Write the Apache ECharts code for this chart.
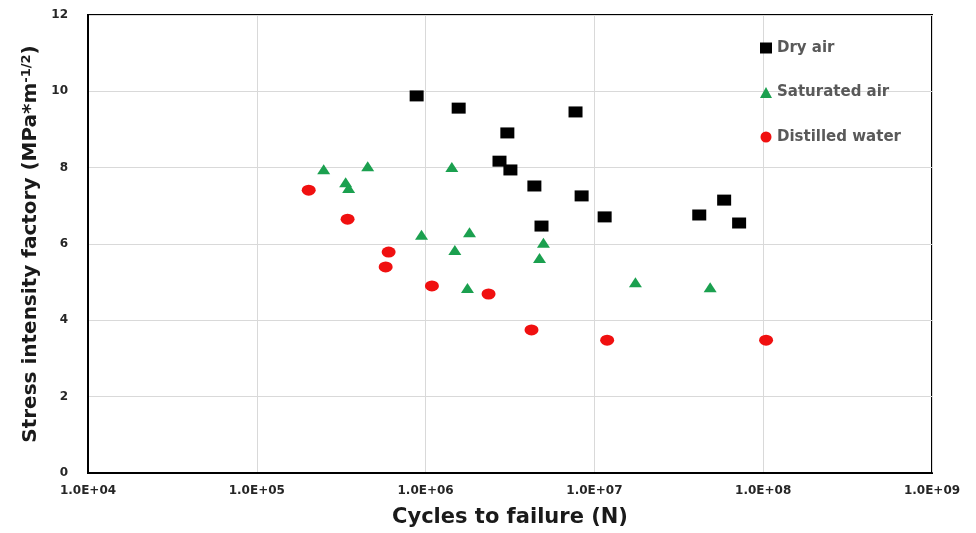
<!DOCTYPE html>
<html>
<head>
<meta charset="utf-8">
<script src="https://cdn.jsdelivr.net/npm/echarts@6/dist/echarts.min.js"></script>
<style>
html,body{margin:0;padding:0;background:#fff;}
#chart{width:976px;height:533px;}
</style>
</head>
<body>
<div id="chart"></div>
<script>
// Series data: [cycles to failure, stress intensity factor]
const dryAir = [
  [8.85e5, 9.88], [1.57e6, 9.56], [3.05e6, 8.91], [2.74e6, 8.17], [3.18e6, 7.94],
  [4.41e6, 7.52], [4.86e6, 6.47], [7.73e6, 9.46], [8.4e6, 7.26], [1.15e7, 6.71],
  [4.18e7, 6.76], [5.87e7, 7.15], [7.2e7, 6.55]
];
const saturatedAir = [
  [2.49e5, 7.96], [3.36e5, 7.62], [3.5e5, 7.47], [4.54e5, 8.04], [1.43e6, 8.02],
  [9.46e5, 6.24], [1.82e6, 6.31], [1.49e6, 5.84], [1.77e6, 4.85], [4.99e6, 6.03],
  [4.73e6, 5.63], [1.75e7, 5.0], [4.85e7, 4.87]
];
const distilledWater = [
  [2.03e5, 7.41], [3.45e5, 6.65], [6.04e5, 5.79], [5.8e5, 5.40], [1.09e6, 4.90],
  [2.36e6, 4.69], [4.24e6, 3.75], [1.19e7, 3.48], [1.04e8, 3.48]
];
const seriesNames = ['Dry air', 'Saturated air', 'Distilled water'];
const xTickLabels = ['1.0E+04', '1.0E+05', '1.0E+06', '1.0E+07', '1.0E+08', '1.0E+09'];
const yTickLabels = ['0', '2', '4', '6', '8', '10', '12'];

const chart = echarts.init(document.getElementById('chart'), null, {renderer: 'canvas'});
const FONT = "'DejaVu Sans', sans-serif";
const option = {
  animation: false,
  backgroundColor: '#fff',
  grid: {
    left: 88, right: 44, top: 15, bottom: 60,
    show: true, borderColor: '#000', borderWidth: 2, backgroundColor: 'transparent'
  },
  legend: {
    orient: 'vertical',
    left: 755, top: 35,
    itemWidth: 12, itemHeight: 11, itemGap: 28.5,
    data: seriesNames,
    textStyle: {fontFamily: FONT, fontWeight: 'bold', fontSize: 15, color: '#595959', lineHeight: 16}
  },
  xAxis: {
    type: 'log', logBase: 10, min: 1e4, max: 1e9,
    name: 'Cycles to failure (N)', nameLocation: 'middle', nameGap: 34,
    nameTextStyle: {fontFamily: FONT, fontWeight: 'bold', fontSize: 21, color: '#1a1a1a'},
    axisLine: {show: true, lineStyle: {color: '#000', width: 2}},
    axisTick: {show: false},
    splitLine: {show: true, lineStyle: {color: '#d9d9d9', width: 1}},
    minorTick: {show: false},
    axisLabel: {
      margin: 12, fontFamily: FONT, fontWeight: 'bold', fontSize: 12, color: '#262626',
      formatter: function (v) {
        const i = Math.round(Math.log10(v)) - 4;
        return xTickLabels[i] !== undefined ? xTickLabels[i] : '';
      }
    }
  },
  yAxis: {
    type: 'value', min: 0, max: 12, interval: 2,
    name: 'Stress intensity factory (MPa*m{sup|-1/2})', nameLocation: 'middle', nameGap: 44,
    nameTextStyle: {
      fontFamily: FONT, fontWeight: 'bold', fontSize: 20, color: '#1a1a1a',
      rich: {sup: {fontFamily: FONT, fontWeight: 'bold', fontSize: 13, color: '#1a1a1a', verticalAlign: 'top'}}
    },
    axisLine: {show: true, lineStyle: {color: '#000', width: 2}},
    axisTick: {show: false},
    splitLine: {show: true, lineStyle: {color: '#d9d9d9', width: 1}},
    axisLabel: {
      margin: 20, fontFamily: FONT, fontWeight: 'bold', fontSize: 12, color: '#262626',
      formatter: function (v) {
        const i = Math.round(v / 2);
        return yTickLabels[i] !== undefined ? yTickLabels[i] : '';
      }
    }
  },
  series: [
    {name: seriesNames[0], type: 'scatter', symbol: 'rect', symbolSize: [14, 11],
     itemStyle: {color: '#000000', opacity: 1}, data: dryAir},
    {name: seriesNames[1], type: 'scatter', symbol: 'triangle', symbolSize: [13, 10],
     itemStyle: {color: '#1ba04f', opacity: 1}, data: saturatedAir},
    {name: seriesNames[2], type: 'scatter', symbol: 'circle', symbolSize: [14, 11],
     itemStyle: {color: '#f01010', opacity: 1}, data: distilledWater}
  ]
};
chart.setOption(option);
</script>
</body>
</html>
